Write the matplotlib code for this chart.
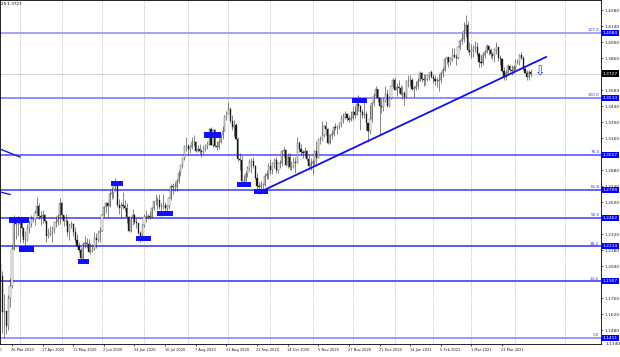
import matplotlib
matplotlib.use('Agg')
import matplotlib.pyplot as plt
import matplotlib.transforms as mtransforms
from matplotlib.patches import Rectangle
import numpy as np
import pandas as pd

# GBP/USD daily, 18 Mar 2020 - 13 Apr 2021, prices in pips (1e-4)
first_open = 12060

highs = [
    # Mar 2020
    12200, 12000, 11800, 11650, 11785, 11940, 12225, 12486, 12470, 12480,
    # Apr 2020
    12450, 12450, 12380, 12350, 12410, 12445, 12490, 12470, 12530, 12650, 12590,
    12520, 12530, 12500, 12435, 12370, 12390, 12390, 12430, 12470, 12500, 12640,
    # May 2020
    12600, 12490, 12500, 12450, 12420, 12440, 12420, 12380, 12320, 12250, 12200,
    12250, 12300, 12290, 12280, 12240, 12230, 12340, 12330, 12350, 12380,
    # Jun 2020
    12500, 12570, 12600, 12600, 12710, 12730, 12750, 12812, 12760, 12630, 12600,
    12690, 12620, 12590, 12480, 12470, 12540, 12500, 12460, 12420, 12350, 12410,
    # Jul 2020
    12500, 12530, 12500, 12520, 12560, 12610, 12670, 12650, 12670, 12590, 12670, 12600,
    12580, 12650, 12760, 12770, 12780, 12800, 12880, 12930, 12990, 13100, 13170,
    # Aug 2020
    13110, 13100, 13170, 13185, 13140, 13100, 13110, 13070, 13100, 13110, 13140,
    13250, 13260, 13240, 13240, 13140, 13150, 13200, 13270, 13360, 13400,
    # Sep 2020
    13482, 13430, 13360, 13320, 13290, 13170, 13030, 13010, 12840, 12870, 12920,
    12980, 12990, 13000, 12930, 12860, 12780, 12790, 12770, 12860, 12880, 12940,
    # Oct 2020
    12980, 12950, 12990, 13000, 12950, 12970, 13060, 13080, 13070, 13030, 13030,
    12960, 13000, 13000, 13170, 13140, 13110, 13060, 13080, 13060, 13010, 12990,
    # Nov 2020
    12980, 13060, 13140, 13160, 13180, 13310, 13280, 13310, 13250, 13200, 13230,
    13270, 13290, 13280, 13300, 13360, 13380, 13400, 13380, 13360, 13400,
    # Dec 2020
    13440, 13440, 13480, 13540, 13450, 13420, 13500, 13400, 13290, 13450, 13480,
    13560, 13620, 13590, 13520, 13510, 13520, 13620, 13590, 13530, 13620, 13690,
    # Jan 2021
    13700, 13640, 13670, 13630, 13620, 13570, 13670, 13710, 13710, 13690,
    13620, 13660, 13690, 13750, 13740, 13720, 13720, 13720, 13740, 13760,
    # Feb 2021
    13720, 13710, 13700, 13720, 13740, 13780, 13860, 13870, 13870, 13870,
    13950, 13950, 13900, 13970, 14020, 14080, 14180, 14240, 14190, 14000,
    # Mar 2021
    13990, 13980, 14010, 14000, 13920, 13890, 13920, 13930, 13990, 13980, 13950, 13920,
    13950, 14000, 13960, 13890, 13860, 13780, 13760, 13810, 13800, 13800, 13800,
    # Apr 2021
    13850, 13850, 13900, 13920, 13880, 13780, 13760, 13760, 13770,
]

lows = [
    11900, 11451, 11409, 11450, 11480, 11680, 11850, 12180, 12275, 12300,
    12250, 12300, 12240, 12170, 12260, 12330, 12380, 12430, 12400, 12480, 12450,
    12400, 12420, 12420, 12250, 12290, 12300, 12250, 12330, 12380, 12400, 12410,
    12450, 12390, 12400, 12300, 12270, 12370, 12300, 12250, 12210, 12165, 12075,
    12080, 12200, 12200, 12160, 12150, 12160, 12180, 12200, 12250, 12250,
    12350, 12470, 12510, 12470, 12560, 12630, 12640, 12700, 12560, 12500, 12460,
    12540, 12520, 12420, 12340, 12340, 12400, 12410, 12370, 12320, 12250, 12260,
    12380, 12430, 12450, 12450, 12460, 12530, 12580, 12540, 12540, 12480, 12540, 12520,
    12500, 12540, 12620, 12670, 12700, 12700, 12770, 12830, 12900, 12970, 13050,
    13010, 13030, 13070, 13090, 13040, 13040, 13020, 13000, 13020, 13050, 13070,
    13100, 13100, 13080, 13080, 13060, 13070, 13120, 13150, 13220, 13320,
    13370, 13290, 13230, 13180, 13150, 12960, 12880, 12770, 12760, 12770, 12820,
    12870, 12860, 12900, 12800, 12710, 12676, 12690, 12690, 12740, 12800, 12800,
    12850, 12850, 12900, 12860, 12860, 12900, 12920, 13000, 12920, 12900, 12880,
    12880, 12900, 12860, 12940, 13040, 13010, 12990, 13000, 12960, 12880, 12880,
    12850, 12930, 12920, 12990, 13110, 13140, 13170, 13190, 13110, 13110, 13150,
    13180, 13230, 13200, 13240, 13260, 13290, 13330, 13310, 13300, 13310,
    13320, 13340, 13360, 13400, 13230, 13340, 13340, 13230, 13130, 13200, 13300,
    13440, 13510, 13480, 13190, 13380, 13400, 13480, 13430, 13430, 13500, 13600,
    13580, 13530, 13560, 13540, 13500, 13450, 13510, 13610, 13620, 13580,
    13520, 13580, 13590, 13660, 13650, 13620, 13630, 13660, 13670, 13690,
    13640, 13630, 13610, 13570, 13640, 13700, 13750, 13810, 13780, 13800,
    13840, 13860, 13800, 13850, 13930, 13990, 14000, 14050, 13920, 13890,
    13860, 13870, 13920, 13880, 13780, 13780, 13800, 13860, 13910, 13890, 13860, 13850,
    13830, 13900, 13840, 13800, 13740, 13670, 13670, 13720, 13740, 13710, 13730,
    13760, 13810, 13800, 13850, 13760, 13730, 13670, 13670, 13700,
]

closes = [
    11955, 11640, 11650, 11520, 11760, 11870, 12190, 12460, 12410, 12405,
    12415, 12375, 12265, 12270, 12370, 12410, 12455, 12450, 12510, 12570, 12480,
    12470, 12490, 12435, 12300, 12325, 12340, 12365, 12425, 12430, 12480, 12590,
    12490, 12440, 12440, 12340, 12400, 12405, 12340, 12270, 12220, 12180, 12110,
    12230, 12240, 12230, 12165, 12170, 12190, 12290, 12270, 12340, 12350,
    12490, 12560, 12590, 12570, 12670, 12680, 12740, 12740, 12580, 12550, 12580,
    12570, 12550, 12470, 12350, 12470, 12490, 12430, 12420, 12330, 12300, 12400,
    12470, 12470, 12480, 12470, 12550, 12610, 12610, 12620, 12560, 12560, 12580, 12550,
    12570, 12640, 12740, 12730, 12730, 12790, 12860, 12930, 12990, 13090, 13090,
    13070, 13080, 13130, 13130, 13050, 13070, 13050, 13040, 13070, 13090, 13110,
    13240, 13100, 13230, 13090, 13080, 13130, 13190, 13220, 13350, 13370,
    13420, 13310, 13260, 13280, 13150, 12980, 12970, 12790, 12790, 12850, 12900,
    12950, 12960, 12920, 12810, 12740, 12730, 12750, 12750, 12830, 12850, 12920,
    12880, 12940, 12970, 12880, 12940, 12940, 13050, 13060, 12930, 13000, 12910,
    12910, 12950, 12940, 13120, 13070, 13040, 13030, 13050, 12980, 12920, 12940,
    12950, 13050, 12990, 13150, 13150, 13190, 13270, 13240, 13120, 13190, 13200,
    13260, 13250, 13270, 13290, 13330, 13350, 13370, 13340, 13320, 13340,
    13390, 13360, 13460, 13440, 13390, 13360, 13370, 13290, 13220, 13330, 13470,
    13530, 13590, 13510, 13440, 13430, 13490, 13550, 13440, 13510, 13620, 13670,
    13580, 13610, 13600, 13550, 13560, 13520, 13660, 13660, 13670, 13590,
    13600, 13620, 13660, 13730, 13680, 13670, 13680, 13710, 13740, 13700,
    13680, 13660, 13660, 13670, 13730, 13760, 13850, 13870, 13830, 13850,
    13890, 13870, 13860, 13960, 14010, 14030, 14100, 14150, 13930, 13920,
    13930, 13950, 13960, 13900, 13830, 13820, 13890, 13920, 13970, 13930, 13900, 13880,
    13930, 13960, 13860, 13850, 13750, 13700, 13730, 13790, 13760, 13750, 13780,
    13830, 13830, 13890, 13860, 13770, 13730, 13700, 13740, 13727,
]

# Fibonacci grid
fib_names = ['0.0', '23.6', '38.2', '50.0', '61.8', '76.4', '100.0', '127.2']
fib_prices = [1.1411, 1.1907, 1.2214, 1.2462, 1.2709, 1.3017, 1.3513, 1.4084]
fib_colors = ['#8080ff', '#2f2fff', '#2f2fff', '#3a3aff', '#3a3aff', '#4a4aff', '#7070ff', '#8a8aff']

price_ticks = [1.4280, 1.4140, 1.4000, 1.3860, 1.3580, 1.3440, 1.3300, 1.3160,
               1.2880, 1.2740, 1.2600, 1.2320, 1.2180, 1.2040, 1.1760, 1.1620, 1.1480]
last_price = 1.3727

# trend line anchors (bar index, price)
trend_start = (136.6, 1.2698)
trend_end = (285.0, 1.3872)
old_lines = [((-0.3, 1.3066), (10.2, 1.2996)), ((-0.3, 1.2690), (5.0, 1.2668))]

# blue marker boxes (bar index, price, width in bars)
marks = [(9.7, 1.2444, 10.5), (13.6, 1.2190, 8), (43.4, 1.2081, 6), (60.9, 1.2764, 6.3),
         (74.7, 1.2282, 8), (86.0, 1.2501, 8), (110.8, 1.3189, 9), (127.2, 1.2755, 7.3),
         (136.1, 1.2694, 7.3), (187.6, 1.3491, 8)]
arrow_pos = (282.0, 1.3741)

hi = np.array(highs) / 1e4
lo = np.array(lows) / 1e4
cl = np.array(closes) / 1e4
op = np.r_[first_open / 1e4, cl[:-1]]
n = len(cl)
x = np.arange(n)

dates = pd.bdate_range('2020-03-18', '2021-04-13')
dates = dates[~dates.isin(pd.to_datetime(['2020-12-25', '2021-01-01']))][:n]

fig = plt.figure(figsize=(6.2, 3.57), dpi=100)
ax = fig.add_axes([0, 13 / 357, 601 / 620, 344 / 357])
ax.set_xlim(-0.26, 313.7)
ax.set_ylim(1.13585, 1.4371)

# month grid
month_starts = [i for i in range(1, n) if dates[i].month != dates[i - 1].month]
for i in month_starts + [295]:
    ax.axvline(i, color='#9a9a9a', lw=0.5, ls=(0, (1, 1.5)), zorder=0)

for p, c in zip(fib_prices, fib_colors):
    ax.axhline(p, color=c, lw=1.1, zorder=1)

ax.axhline(last_price, color='#c0c0c0', lw=0.5, zorder=1)

# candles
up = cl >= op
ax.vlines(x, lo, hi, color='#2a2a2a', lw=0.4, zorder=2)
ax.bar(x[up], (cl - op)[up], bottom=op[up], width=0.6, color='white',
       edgecolor='#2a2a2a', lw=0.25, zorder=3)
ax.bar(x[~up], (op - cl)[~up], bottom=cl[~up], width=0.6, color='#1a1a1a',
       edgecolor='#1a1a1a', lw=0.25, zorder=3)

# lines
ax.plot([trend_start[0], trend_end[0]], [trend_start[1], trend_end[1]],
        color='#1010e8', lw=1.3, zorder=4)
for a, b in old_lines:
    ax.plot([a[0], b[0]], [a[1], b[1]], color='#2020c0', lw=1.0, zorder=4)

for bx, by, bw in marks:
    ax.add_patch(Rectangle((bx - bw / 2, by - 0.0025), bw, 0.005,
                           facecolor='#1010ff', edgecolor='none', zorder=5))

ax.text(arrow_pos[0], arrow_pos[1], '\u21e9', color='#3030ff', fontsize=9,
        ha='center', va='center', zorder=5)

# fib level names
for name, p in zip(fib_names, fib_prices):
    ax.text(312.8, p + 0.0006, name, ha='right', va='bottom', fontsize=3,
            color='#3535ff', zorder=5)

# right price axis
ax.yaxis.tick_right()
ax.set_yticks(price_ticks)
ax.set_yticklabels([f'{p:.4f}' for p in price_ticks])
ax.tick_params(axis='y', labelsize=3.2, length=1.5, width=0.5, pad=1, colors='#202020')
trans = mtransforms.blended_transform_factory(ax.transAxes, ax.transData)
for p in fib_prices:
    ax.text(1.003, p, f'{p:.4f}', transform=trans, ha='left', va='center', fontsize=3.2,
            color='white', clip_on=False,
            bbox=dict(boxstyle='square,pad=0.25', fc='#0000ff', ec='none'))
ax.text(1.003, last_price, f'{last_price:.4f}', transform=trans, ha='left', va='center',
        fontsize=3.2, color='white', clip_on=False,
        bbox=dict(boxstyle='square,pad=0.25', fc='black', ec='none'))
ax.text(1.008, 0.0, '1.1340', transform=ax.transAxes, ha='left', va='center',
        fontsize=3.2, color='#202020', clip_on=False)

# date axis
label_idx = list(range(6, n, 16))
ax.set_xticks(label_idx)
ax.set_xticklabels([])
ax.tick_params(axis='x', length=1.5, width=0.5)
trans_x = mtransforms.blended_transform_factory(ax.transData, ax.transAxes)
for i in label_idx:
    d = dates[i]
    ax.text(i - 0.3, -0.012, f'{d.day} {d.strftime("%b %Y")}', transform=trans_x,
            ha='left', va='top', fontsize=2.6, color='#202020', clip_on=False)
# label of the bar before the window, only its tail shows at the left edge
ax.text(-10.3, -0.012, '4 Mar 2020', transform=trans_x, ha='left', va='top',
        fontsize=2.6, color='#202020', clip_on=False)

for s in ax.spines.values():
    s.set_linewidth(0.6)
    s.set_color('black')

fig.text(0.002, 0.995, '25 1.3727', fontsize=3, va='top', ha='left')

fig.savefig('out.png', dpi=100)
